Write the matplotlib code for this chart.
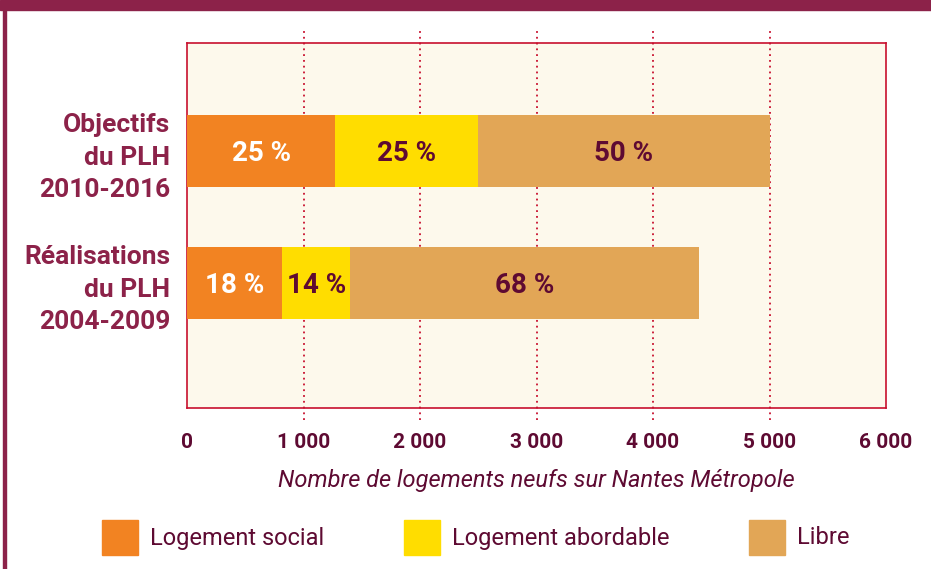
import matplotlib.pyplot as plt
from matplotlib.patches import Rectangle

# data
rows = ["Réalisations\ndu PLH\n2004-2009", "Objectifs\ndu PLH\n2010-2016"]
social = [817, 1272]
abordable = [586, 1222]
libre = [2996, 2506]
pct_social = ["18 %", "25 %"]
pct_abordable = ["14 %", "25 %"]
pct_libre = ["68 %", "50 %"]
xticks = [0, 1000, 2000, 3000, 4000, 5000, 6000]
xtick_labels = ["0", "1 000", "2 000", "3 000", "4 000", "5 000", "6 000"]
series_names = ["Logement social", "Logement abordable", "Libre"]

ORANGE = "#F28322"
YELLOW = "#FFDD00"
TAN = "#E2A656"
MAROON = "#8C2249"
DARK = "#5E0A32"
CREAM = "#FDF9EC"
RED = "#C8102E"

plt.rcParams["font.family"] = ["Roboto", "DejaVu Sans"]

fig = plt.figure(figsize=(9.31, 5.69), dpi=100)
fig.patch.set_facecolor("white")

# title band and left frame line
fig.patches.append(Rectangle((0, 1 - 10 / 569), 1, 10 / 569, transform=fig.transFigure,
                             color=MAROON, zorder=0))
fig.patches.append(Rectangle((3 / 931, 0), 2.5 / 931, 1, transform=fig.transFigure,
                             color=MAROON, zorder=0))

ax = fig.add_axes([187 / 931, (569 - 408) / 569, 699 / 931, 365 / 569])
ax.set_facecolor(CREAM)
for s in ax.spines.values():
    s.set_color(RED)
    s.set_linewidth(1.2)

ypos = [0, 1]
h = 0.545
left2 = [a + b for a, b in zip(social, abordable)]
ax.barh(ypos, social, height=h, color=ORANGE, zorder=3)
ax.barh(ypos, abordable, left=social, height=h, color=YELLOW, zorder=3)
ax.barh(ypos, libre, left=left2, height=h, color=TAN, zorder=3)

# dotted gridlines, extending beyond the axes
for x in xticks[1:-1]:
    ax.axvline(x, ymin=-0.033, ymax=1.041, color=RED, linestyle=(0, (1, 2.2)),
               linewidth=1.3, clip_on=False, zorder=1)

for i in ypos:
    ax.text(social[i] / 2, i, pct_social[i], ha="center", va="center_baseline",
            color="white", fontsize=20, fontweight="bold", zorder=4)
    ax.text(social[i] + abordable[i] / 2, i, pct_abordable[i], ha="center", va="center_baseline",
            color=DARK, fontsize=20, fontweight="bold", zorder=4)
    ax.text(left2[i] + libre[i] / 2, i, pct_libre[i], ha="center", va="center_baseline",
            color=DARK, fontsize=20, fontweight="bold", zorder=4)

ax.set_xlim(0, 6000)
ax.set_ylim(-0.947, 1.818)
ax.set_xticks(xticks)
ax.set_xticklabels(xtick_labels, fontsize=15, fontweight="bold", color=DARK)
ax.set_yticks(ypos)
ax.set_yticklabels(rows, fontsize=19, fontweight="bold", color=MAROON, linespacing=1.45)
ax.tick_params(axis="x", length=0, pad=18)
ax.tick_params(axis="y", length=0, pad=12)

ax.set_xlabel("Nombre de logements neufs sur Nantes Métropole", fontsize=17,
              style="italic", color=DARK, labelpad=12)

# legend
leg_colors = [ORANGE, YELLOW, TAN]
leg_x = [102, 404, 749]
for name, c, x in zip(series_names, leg_colors, leg_x):
    fig.patches.append(Rectangle((x / 931, (569 - 555) / 569), 36 / 931, 35 / 569,
                                 transform=fig.transFigure, color=c))
    fig.text((x + 48) / 931, (569 - 538) / 569, name, ha="left", va="center",
             fontsize=17, color=DARK)

fig.savefig("out.png", dpi=100)
